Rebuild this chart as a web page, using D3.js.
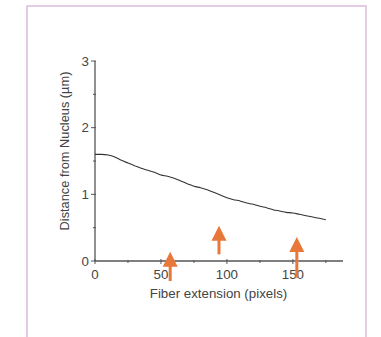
<!DOCTYPE html>
<html>
<head>
<meta charset="utf-8">
<script src="https://cdn.jsdelivr.net/npm/d3@7"></script>
<style>
  html, body { margin: 0; padding: 0; background: #fff; }
  svg { display: block; font-family: "Liberation Sans", Arial, sans-serif; }
</style>
</head>
<body>
<div id="chart"></div>
<script>
// distance profile
const fiberX = [0, 5, 10, 15, 20, 25, 30, 35, 40, 45, 50, 55, 60, 65, 70, 75, 80, 85, 90, 95, 100, 105, 110, 115, 120, 125, 130, 135, 140, 145, 150, 155, 160, 165, 170, 175];
const distY  = [1.6, 1.6, 1.59, 1.56, 1.51, 1.47, 1.43, 1.39, 1.36, 1.33, 1.29, 1.27, 1.24, 1.2, 1.16, 1.12, 1.1, 1.07, 1.03, 0.99, 0.95, 0.92, 0.9, 0.87, 0.85, 0.82, 0.8, 0.77, 0.75, 0.73, 0.72, 0.7, 0.68, 0.66, 0.64, 0.62];

// arrows: x position, tip and tail in data units
const arrowX    = [57, 94, 153];
const arrowTip  = [0.14, 0.53, 0.36];
const arrowTail = [-0.3, 0.1, -0.25];

const xTicks = [0, 50, 100, 150];
const xMinor = [25, 75, 125, 175];
const yTicks = [0, 1, 2, 3];
const yMinor = [0.5, 1.5, 2.5];

const W = 381, H = 337;
const margin = {left: 95, top: 61, right: 38, bottom: 76};
const cw = W - margin.left - margin.right, ch = H - margin.top - margin.bottom;
const fs = 13.3;

const svg = d3.select('#chart').append('svg').attr('width', W).attr('height', H);

// pink frame
svg.append('rect').attr('x', 27).attr('y', 6).attr('width', 339).attr('height', 340)
   .attr('fill', 'none').attr('stroke', '#dcbcdc').attr('stroke-width', 1.5);

const x = d3.scaleLinear().domain([0, 188]).range([0, cw]);
const y = d3.scaleLinear().domain([0, 3]).range([ch, 0]);

const g = svg.append('g').attr('transform', `translate(${margin.left},${margin.top})`);
const axisCol = '#555', textCol = '#444';

// x axis
const xa = g.append('g').attr('transform', `translate(0,${ch})`);
xa.append('line').attr('x1', 0).attr('x2', cw).attr('stroke', axisCol).attr('stroke-width', 1.3);
xa.selectAll('line.maj').data(xTicks).join('line').attr('class', 'maj')
  .attr('x1', d => x(d)).attr('x2', d => x(d)).attr('y1', -2).attr('y2', 3)
  .attr('stroke', axisCol).attr('stroke-width', 1);
xa.selectAll('line.min').data(xMinor).join('line').attr('class', 'min')
  .attr('x1', d => x(d)).attr('x2', d => x(d)).attr('y1', -1).attr('y2', 2)
  .attr('stroke', axisCol).attr('stroke-width', 1);
xa.selectAll('text').data(xTicks).join('text')
  .attr('x', d => x(d)).attr('y', 18).attr('text-anchor', 'middle')
  .attr('font-size', fs).attr('fill', textCol).text(d => d);

// y axis
const ya = g.append('g');
ya.append('line').attr('y1', 0).attr('y2', ch).attr('stroke', axisCol).attr('stroke-width', 1.3);
ya.selectAll('line.maj').data(yTicks).join('line').attr('class', 'maj')
  .attr('y1', d => y(d)).attr('y2', d => y(d)).attr('x1', -4).attr('x2', 1)
  .attr('stroke', axisCol).attr('stroke-width', 1);
ya.selectAll('line.min').data(yMinor).join('line').attr('class', 'min')
  .attr('y1', d => y(d)).attr('y2', d => y(d)).attr('x1', -2).attr('x2', 1)
  .attr('stroke', axisCol).attr('stroke-width', 1);
ya.selectAll('text').data(yTicks).join('text')
  .attr('x', -6).attr('y', d => y(d)).attr('dy', '0.36em').attr('text-anchor', 'end')
  .attr('font-size', fs).attr('fill', textCol).text(d => d);

// axis titles
svg.append('text').attr('x', 218.5).attr('y', 298)
   .attr('text-anchor', 'middle').attr('font-size', fs).attr('fill', textCol)
   .text('Fiber extension (pixels)');
svg.append('text').attr('transform', 'translate(69,151) rotate(-90)')
   .attr('text-anchor', 'middle').attr('font-size', 12.8).attr('fill', textCol)
   .text('Distance from Nucleus (µm)');

// curve
const line = d3.line().x((d, i) => x(fiberX[i])).y(d => y(d)).curve(d3.curveMonotoneX);
g.append('path').datum(distY).attr('d', line)
 .attr('fill', 'none').attr('stroke', '#333').attr('stroke-width', 1.1);

// arrows
const orange = '#e8773a';
const arr = g.selectAll('g.arrow').data(arrowX).join('g').attr('class', 'arrow');
arr.append('line')
   .attr('x1', d => x(d)).attr('x2', d => x(d))
   .attr('y1', (d, i) => y(arrowTip[i]) + 12).attr('y2', (d, i) => y(arrowTail[i]))
   .attr('stroke', orange).attr('stroke-width', 3);
arr.append('path')
   .attr('d', (d, i) => {
     const cx = x(d), ty = y(arrowTip[i]);
     return `M${cx},${ty} L${cx + 7.5},${ty + 15} L${cx - 7.5},${ty + 15} Z`;
   })
   .attr('fill', orange);
</script>
</body>
</html>
